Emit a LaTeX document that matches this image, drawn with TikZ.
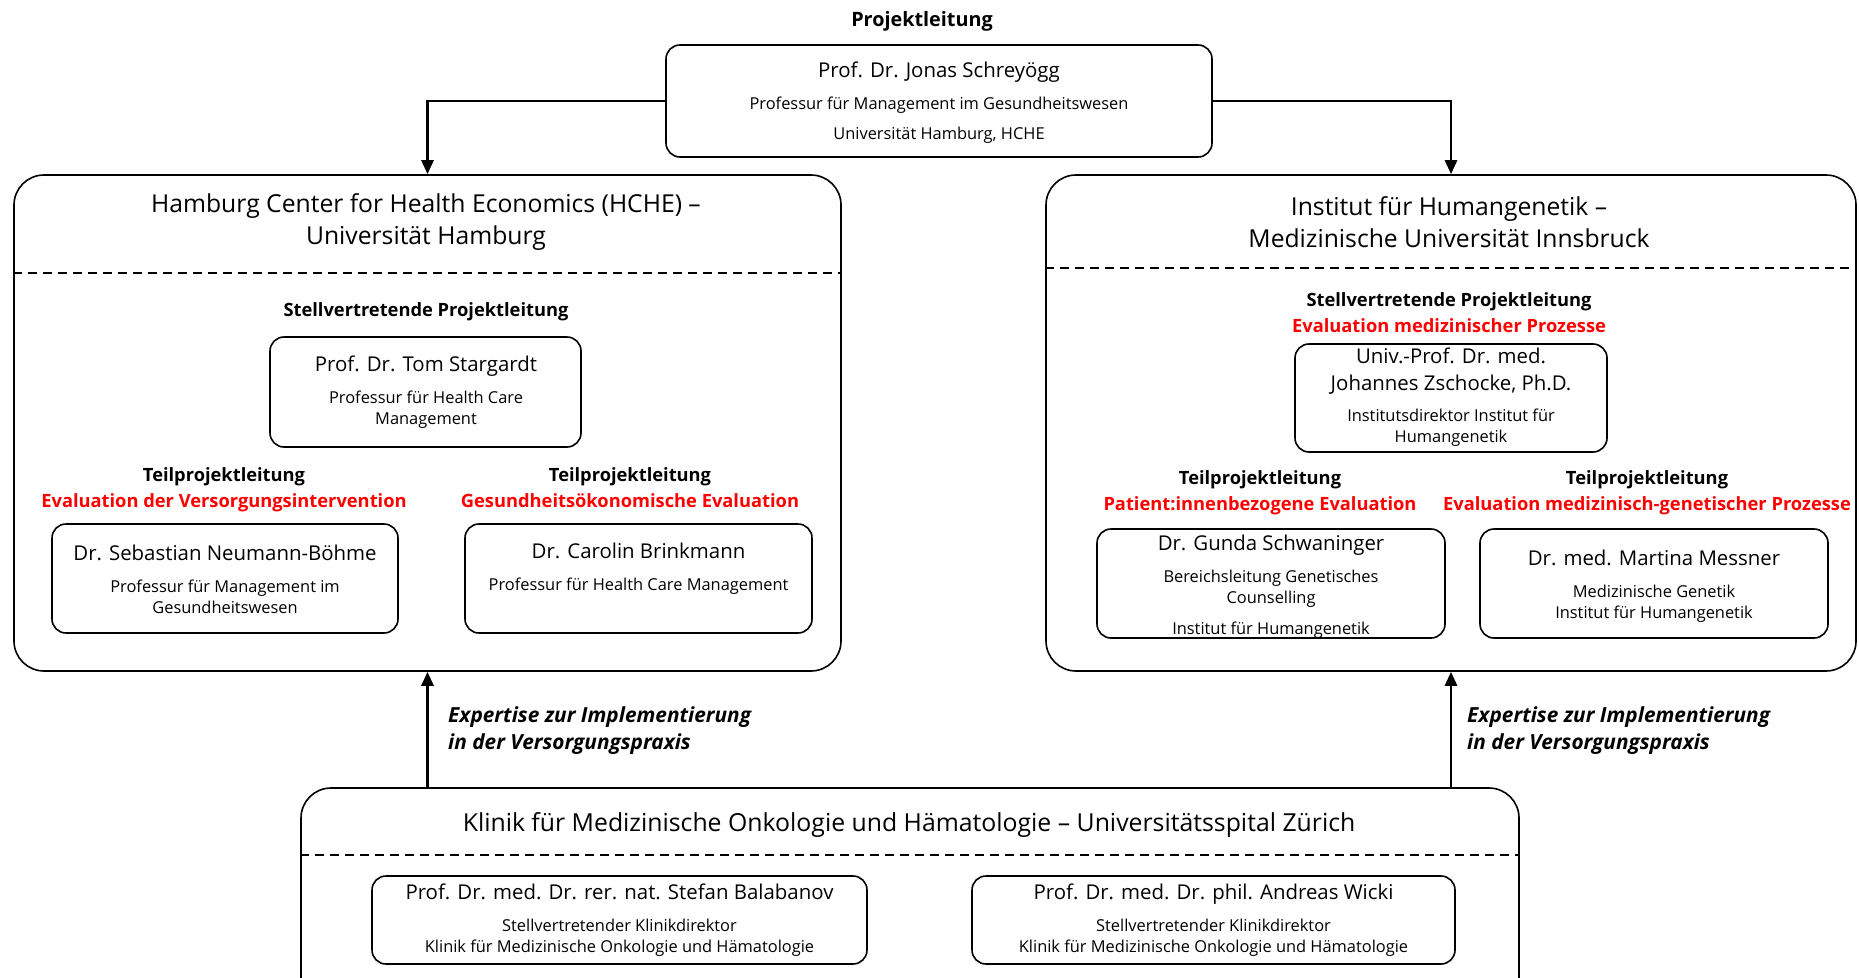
\documentclass[tikz,border=0pt]{standalone}
\usepackage{fontspec}
\setmainfont{Open Sans}
\usetikzlibrary{arrows.meta,calc}
\newcommand\nmf{\fontsize{20.4}{26}\selectfont}
\newcommand\sbf{\fontsize{16.4}{21}\selectfont}
\newcommand\tlf{\fontsize{24.7}{32}\selectfont}
\newcommand\bdf{\fontsize{18.3}{26}\selectfont\bfseries}
\newcommand\itf{\fontsize{20.8}{27}\selectfont\bfseries\itshape}
\begin{document}
\begin{tikzpicture}[x=1pt,y=-1pt,
  bigbox/.style={draw=black, line width=1.6pt, rounded corners=30pt, inner sep=0pt},
  pbox/.style={draw=black, line width=1.6pt, rounded corners=14pt, inner sep=0pt},
  txt/.style={inner sep=0pt, align=center, font=\sbf},
  lbl/.style={inner sep=0pt, align=center, font=\bdf},
  ital/.style={inner sep=0pt, align=left, anchor=west, font=\itf},
  conn/.style={line width=2.8pt, -{Triangle[length=14pt,width=12pt]}},
  divider/.style={line width=1.2pt, dash pattern=on 9pt off 6pt}]
\useasboundingbox (0,0) rectangle (1859,977);
\fill[white] (0,0) rectangle (1859,977);

% ---- top
\node[lbl, font=\fontsize{19.8}{26}\selectfont\bfseries] (pl) at (922,21.5) {Projektleitung};
\node[pbox, minimum width=546pt, minimum height=112pt] (top) at (939,101) {};
\node[txt] (toptxt) at (939,102.5) {{\nmf Prof. Dr. Jonas Schreyögg}\\[11pt]Professur für Management im Gesundheitswesen\\[9pt]Universität Hamburg, HCHE};

% ---- HCHE
\node[bigbox, minimum width=827pt, minimum height=496pt] (hche) at (427.5,423) {};
\node[txt, font=\tlf] (hchet) at (426,222.5) {Hamburg Center for Health Economics (HCHE) –\\Universität Hamburg};
\draw[divider] (hche.west |- 0,273) -- (hche.east |- 0,273);
\node[lbl] (hchesp) at (426,311.5) {Stellvertretende Projektleitung};
\node[pbox, minimum width=311pt, minimum height=110pt] (st) at (425.5,392) {};
\node[txt] (sttxt) at (426,392.5) {{\nmf Prof. Dr. Tom Stargardt}\\[11pt]Professur für Health Care\\Management};
\node[lbl] (tl1) at (224,489.5) {Teilprojektleitung\\\textcolor{red}{Evaluation der Versorgungsintervention}};
\node[lbl] (tl2) at (630,487.5) {Teilprojektleitung\\\textcolor{red}{Gesundheitsökonomische Evaluation}};
\node[pbox, minimum width=346pt, minimum height=109pt] (nb) at (225,578.5) {};
\node[txt] (nbtxt) at (225,579.5) {{\nmf Dr. Sebastian Neumann-Böhme}\\[11pt]Professur für Management im\\Gesundheitswesen};
\node[pbox, minimum width=347pt, minimum height=109pt] (cb) at (638.5,578.5) {};
\node[txt] (cbtxt) at (638.5,568.5) {{\nmf Dr. Carolin Brinkmann}\\[11pt]Professur für Health Care Management};

% ---- Innsbruck
\node[bigbox, minimum width=810pt, minimum height=496pt] (ih) at (1451,423) {};
\node[txt, font=\tlf] (iht) at (1449,222.5) {Institut für Humangenetik –\\Medizinische Universität Innsbruck};
\draw[divider] (ih.west |- 0,268) -- (ih.east |- 0,268);
\node[lbl] (ihsp) at (1449,312.5) {Stellvertretende Projektleitung\\\textcolor{red}{Evaluation medizinischer Prozesse}};
\node[pbox, minimum width=312pt, minimum height=108pt] (zs) at (1451,398) {};
\node[txt] (zstxt) at (1451,397.5) {{\nmf Univ.-Prof. Dr. med.}\\[6pt]{\nmf Johannes Zschocke, Ph.D.}\\[10pt]Institutsdirektor Institut für\\Humangenetik};
\node[lbl] (tl3) at (1260,492.5) {Teilprojektleitung\\\textcolor{red}{Patient:innenbezogene Evaluation}};
\node[lbl] (tl4) at (1647,492.5) {Teilprojektleitung\\\textcolor{red}{Evaluation medizinisch-genetischer Prozesse}};
\node[pbox, minimum width=348pt, minimum height=109pt] (gs) at (1271,583.5) {};
\node[txt] (gstxt) at (1271,586.5) {{\nmf Dr. Gunda Schwaninger}\\[11pt]Bereichsleitung Genetisches\\Counselling\\[10pt]Institut für Humangenetik};
\node[pbox, minimum width=348pt, minimum height=109pt] (mm) at (1654,583.5) {};
\node[txt] (mmtxt) at (1654,586.5) {{\nmf Dr. med. Martina Messner}\\[11pt]Medizinische Genetik\\Institut für Humangenetik};

% ---- Zürich
\begin{scope}
\clip (0,0) rectangle (1859,977);
\node[bigbox, minimum width=1218pt, minimum height=240pt] (kl) at (910,908) {};
\end{scope}
\node[txt, font=\fontsize{24.8}{32}\selectfont] (klt) at (909,824.5) {Klinik für Medizinische Onkologie und Hämatologie – Universitätsspital Zürich};
\draw[divider] (kl.west |- 0,855) -- (kl.east |- 0,855);
\node[pbox, minimum width=495pt, minimum height=88pt] (sb) at (619.5,920) {};
\node[txt] (sbtxt) at (619.5,920.5) {{\nmf Prof. Dr. med. Dr. rer. nat. Stefan Balabanov}\\[11pt]Stellvertretender Klinikdirektor\\Klinik für Medizinische Onkologie und Hämatologie};
\node[pbox, minimum width=483pt, minimum height=88pt] (aw) at (1213.5,920) {};
\node[txt] (awtxt) at (1213.5,920.5) {{\nmf Prof. Dr. med. Dr. phil. Andreas Wicki}\\[11pt]Stellvertretender Klinikdirektor\\Klinik für Medizinische Onkologie und Hämatologie};

% ---- connectors
\draw[conn] (top.west) -| (hche.north);
\draw[conn] (top.east) -| (ih.north);
\draw[conn] (hche.south |- kl.north) -- (hche.south);
\draw[conn] (ih.south |- kl.north) -- (ih.south);
\node[ital] (ex1) at (448,731) {Expertise zur Implementierung\\in der Versorgungspraxis};
\node[ital] (ex2) at (1467,731) {Expertise zur Implementierung\\in der Versorgungspraxis};
\end{tikzpicture}
\end{document}
